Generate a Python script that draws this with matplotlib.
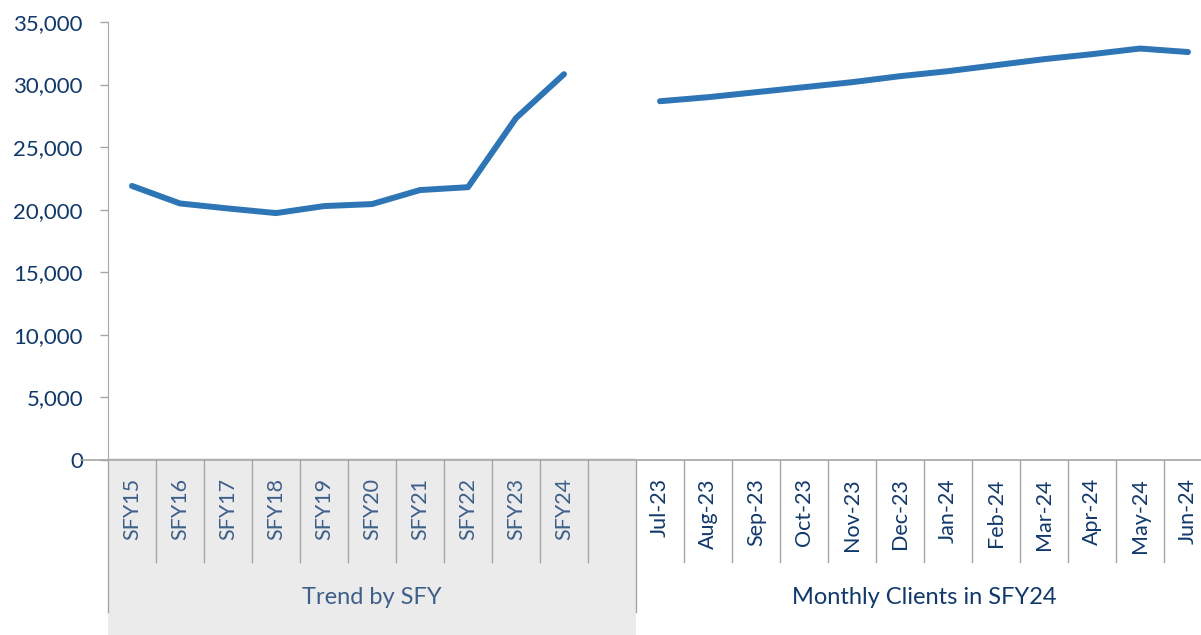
import matplotlib
matplotlib.use("Agg")
import matplotlib.pyplot as plt
import matplotlib.transforms as mtransforms
from matplotlib.patches import Rectangle
import numpy as np

plt.rcParams['font.family'] = ['Lato', 'DejaVu Sans']

sfy_labels = ["SFY15", "SFY16", "SFY17", "SFY18", "SFY19", "SFY20", "SFY21", "SFY22", "SFY23", "SFY24"]
sfy_values = [21900, 20500, 20100, 19730, 20290, 20450, 21570, 21800, 27320, 30830]
month_labels = ["Jul-23", "Aug-23", "Sep-23", "Oct-23", "Nov-23", "Dec-23",
                "Jan-24", "Feb-24", "Mar-24", "Apr-24", "May-24", "Jun-24"]
month_values = [28670, 28990, 29390, 29790, 30190, 30670, 31070, 31550, 32030, 32430, 32880, 32600]
group_labels = ["Trend by SFY", "Monthly Clients in SFY24"]
yticks = [0, 5000, 10000, 15000, 20000, 25000, 30000, 35000]

labels = sfy_labels + [""] + month_labels
values = np.array(sfy_values + [np.nan] + month_values, dtype=float)
x = np.arange(len(labels))

W, H = 1201, 635
colw = 48.0
left_px = 108
right_px = left_px + colw * len(labels)
fig = plt.figure(figsize=(W / 100, H / 100), dpi=100)
ax = fig.add_axes([left_px / W, (H - 460) / H, (right_px - left_px) / W, (460 - 22) / H])

line_color = "#2e75b6"
navy = "#10386b"
steel = "#3e5f8a"
grid_gray = "#a6a6a6"

ax.plot(x, values, color=line_color, lw=4.3, solid_capstyle="round", solid_joinstyle="round", zorder=3)

ax.set_xlim(-0.5, len(labels) - 0.5)
ax.set_ylim(0, 35000)
ax.set_yticks(yticks)
ax.set_yticklabels([f"{v:,}" for v in yticks], color=navy, fontsize=16)
ax.tick_params(axis="y", length=6, width=1, color=grid_gray, pad=12)

ax.set_xticks(x)
ax.set_xticklabels(labels, rotation=90, fontsize=15.5, va="top", ha="center")
ax.tick_params(axis="x", length=0, pad=13)
for i, t in enumerate(ax.get_xticklabels()):
    t.set_color(steel if i < 11 else navy)

for s in ["top", "right"]:
    ax.spines[s].set_visible(False)
ax.spines["left"].set_color(grid_gray)
ax.spines["bottom"].set_color(grid_gray)
ax.spines["bottom"].set_linewidth(1.2)

trans = mtransforms.blended_transform_factory(ax.transData, ax.transAxes)
ah = 438.0
def yf(py):
    return (460 - py) / ah

# gray background for first group
ax.add_patch(Rectangle((-0.5, yf(635)), 11, yf(458) - yf(635), transform=trans,
                       facecolor="#ebebeb", edgecolor="none", clip_on=False, zorder=0))

# category separators
for b in np.arange(0.5, len(labels) - 0.5, 1.0):
    if abs(b - 10.5) < 1e-6:
        continue
    ax.plot([b, b], [0, yf(562)], transform=trans, color=grid_gray, lw=1, clip_on=False)
# group separators
for b in [-0.5, 10.5]:
    ax.plot([b, b], [0, yf(612)], transform=trans, color=grid_gray, lw=1, clip_on=False)
# extend baseline left
ax.plot([-0.5 - 27 / colw, -0.5], [0, 0], transform=trans, color=grid_gray, lw=1.2, clip_on=False)

ax.text(5.0, yf(597), group_labels[0], transform=trans, ha="center", va="center", fontsize=17, color=steel)
ax.text(16.5, yf(597), group_labels[1], transform=trans, ha="center", va="center", fontsize=17, color=navy)

fig.savefig("out.png", dpi=100)
